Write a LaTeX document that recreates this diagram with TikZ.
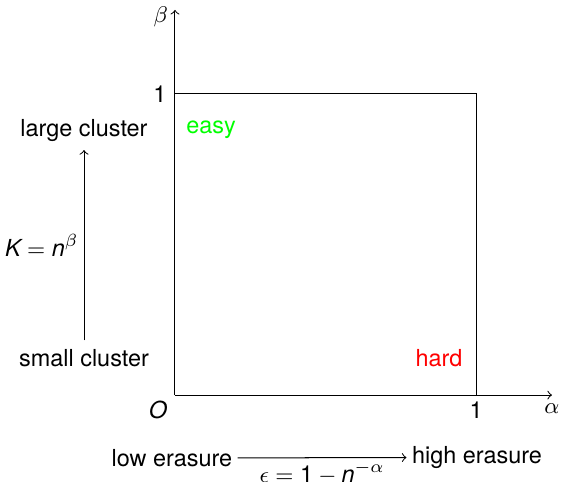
\documentclass[tikz,border=0pt]{standalone}
\usepackage{fontspec}
\setmainfont{TeX Gyre Heros}
\usepackage{tikz}
\usetikzlibrary{positioning}

\begin{document}
\begin{tikzpicture}[x=4.2cm,y=4.2cm,font=\fontsize{9.3}{11}\selectfont,>=to,
  lbl/.style={inner sep=2pt},
  ax/.style={->}]
\useasboundingbox (-0.581,-0.286) rectangle (1.282,1.312);
% axes
\coordinate (O) at (0,0);
\coordinate (xtip) at (1.252,0);
\coordinate (ytip) at (0,1.279);
\draw[ax] (O) -- (xtip);
\draw[ax] (O) -- (ytip);
\node (beta)  at (-0.047,1.256) {$\beta$};
\node (alpha) at (1.252,-0.045) {$\alpha$};
\node (orig)  at (-0.056,-0.05) {$\mathit{O}$};
\node (one1)  at (1,-0.05)      {1};
\node (oney)  at (-0.05,1)      {1};
% region box
\coordinate (tl) at (0,1);
\coordinate (br) at (1,0);
\draw (tl) -| (br);
\node[green] (easy) at (0.12,0.88)  {easy};
\node[red]   (hard) at (0.877,0.123) {hard};
% cluster size
\node (large) at (-0.302,0.88)  {large cluster};
\node (small) at (-0.302,0.123) {small cluster};
\draw[->] (small) -- node[left,lbl] {$\mathit{K}=\mathit{n}^{\beta}$} (large);
% erasure
\node[inner sep=2pt] (low)  at (-0.01,-0.209) {low erasure};
\node[inner sep=2pt] (high) at (1.003,-0.207) {high erasure};
\draw[->] (low) -- node[below,inner sep=1.5pt] {$\epsilon=\mathrm{1}-\mathit{n}^{-\alpha}$} (high);
\end{tikzpicture}
\end{document}
